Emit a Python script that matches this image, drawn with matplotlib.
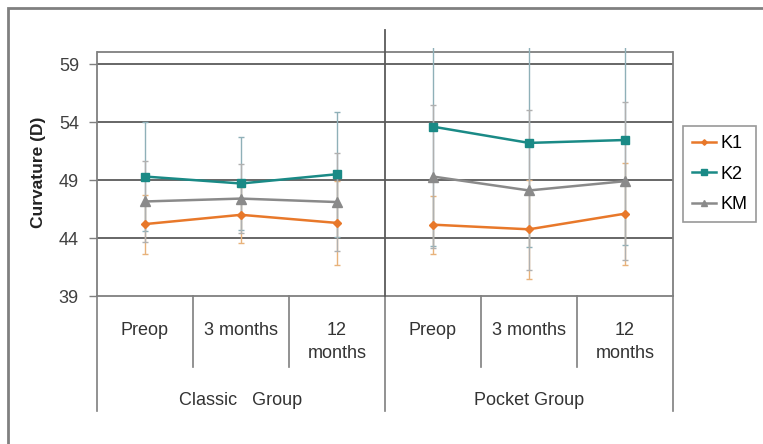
import numpy as np
import matplotlib
matplotlib.use("Agg")
import matplotlib.pyplot as plt
import matplotlib.transforms as mtransforms
from matplotlib.patches import Rectangle

plt.rcParams['font.family'] = ['Liberation Sans', 'DejaVu Sans']

# categories
times = ["Preop", "3 months", "12\nmonths", "Preop", "3 months", "12\nmonths"]
groups = ["Classic   Group", "Pocket Group"]

# means (D)
k1 = [45.2, 46.0, 45.3, 45.15, 44.75, 46.1]
k2 = [49.3, 48.7, 49.5, 53.6, 52.2, 52.45]
km = [47.15, 47.4, 47.1, 49.3, 48.1, 48.9]

# standard deviations
k1_sd = [2.55, 2.4, 3.6, 2.5, 4.25, 4.4]
k2_sd = [4.7, 4.0, 5.4, 10.3, 9.0, 9.05]
km_sd = [3.5, 3.0, 4.2, 6.2, 6.9, 6.8]

yticks = [39, 44, 49, 54, 59]

W, H = 763, 444
fig = plt.figure(figsize=(W / 100, H / 100), dpi=100)
ax = fig.add_axes([97 / W, 1 - 296 / H, (673 - 97) / W, (296 - 47.8) / H])

x = np.arange(len(times))
frame = "#7f7f7f"
txt = "#333333"
fs = 13

# outer chart border
fig.patches.append(Rectangle((8 / W, -0.1), 1.2, 1 - 8 / H + 0.1, transform=fig.transFigure,
                             fill=False, edgecolor="#808080", lw=2))

series = [
    ("K1", k1, k1_sd, "#e8782a", "#e8b27a", "D", 4),
    ("K2", k2, k2_sd, "#1a8a86", "#8fb0b8", "s", 6),
    ("KM", km, km_sd, "#8a8a8a", "#b0b0b0", "^", 7),
]

for name, vals, sd, col, ecol, mk, ms in series:
    for g in range(2):
        sl = slice(3 * g, 3 * g + 3)
        ax.errorbar(x[sl], vals[sl], yerr=sd[sl], fmt="none", ecolor=ecol,
                    elinewidth=1.0, capsize=2.5, capthick=1, zorder=2)
        ax.plot(x[sl], vals[sl], color=col, lw=1.8, marker=mk, ms=ms,
                zorder=3, label=name if g == 0 else None)

# error bars are cut a little above the plot area
ax.set_ylim(39, 60.4)
ax.set_xlim(-0.5, 5.5)

for yv in yticks[1:]:
    ax.axhline(yv, color="#5a5a5a", lw=1.3, zorder=1)
ax.axhline(60, color=frame, lw=1.3, zorder=1)

ax.spines["top"].set_visible(False)
for s in ["left", "right"]:
    ax.spines[s].set_bounds(39, 60)
    ax.spines[s].set_color(frame)
    ax.spines[s].set_linewidth(1.3)
ax.spines["bottom"].set_color(frame)
ax.spines["bottom"].set_linewidth(1.3)

ax.set_yticks(yticks)
ax.set_yticklabels([str(v) for v in yticks], fontsize=fs, color="#404040")
ax.tick_params(axis="y", length=6, width=1, color=frame, pad=7)
ax.set_xticks([])
ax.set_ylabel("Curvature (D)", fontsize=12.5, fontweight="bold", color="#222222", labelpad=9)

# divider between groups
ax.plot([2.5, 2.5], [39, 61.9], color="#5a5a5a", lw=1.3, clip_on=False, zorder=4)

# category axis with separators
trans = mtransforms.blended_transform_factory(ax.transData, fig.transFigure)
def fy(py):
    return 1 - py / H

for xv in [0.5, 1.5, 3.5, 4.5]:
    ax.plot([xv, xv], [fy(296), fy(367)], transform=trans, color=frame, lw=1.2, clip_on=False)
for xv in [-0.5, 2.5, 5.5]:
    ax.plot([xv, xv], [fy(296), fy(411)], transform=trans, color=frame, lw=1.2, clip_on=False)

for i, t in enumerate(times):
    ax.text(x[i], fy(322), t, transform=trans, ha="center", va="top", fontsize=fs,
            color=txt, linespacing=1.45)
for g, name in enumerate(groups):
    ax.text(3 * g + 1, fy(400), name, transform=trans, ha="center", va="center",
            fontsize=fs, color=txt)

leg = fig.legend(loc="upper left", bbox_to_anchor=(683 / W, 1 - 126 / H), fontsize=fs,
                 frameon=True, fancybox=False, edgecolor="#7f7f7f", borderpad=0.5,
                 handlelength=1.3, handletextpad=0.25, labelspacing=0.75, markerscale=0.7,
                 borderaxespad=0)
leg.get_frame().set_linewidth(1.2)

fig.savefig("out.png", dpi=100)
